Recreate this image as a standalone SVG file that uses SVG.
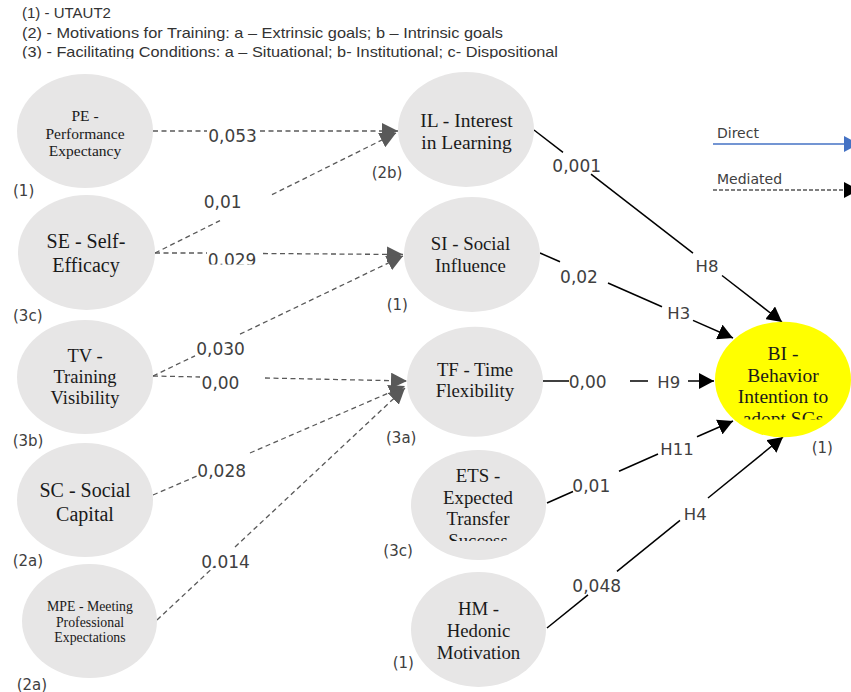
<svg xmlns="http://www.w3.org/2000/svg" width="851" height="692" viewBox="0 0 851 692">
<style>
.nd{fill:#e7e6e6;stroke:none}
.bi{fill:#ffff00;stroke:none}
.nt{font-family:"Liberation Serif","Times New Roman",serif;fill:#1a1a1a;text-anchor:middle}
.lb{font-family:"DejaVu Sans","Liberation Sans",sans-serif;font-size:17px;fill:#404040;text-anchor:middle}
.hl{font-family:"DejaVu Sans","Liberation Sans",sans-serif;font-size:16.5px;fill:#404040;text-anchor:middle}
.pn{font-family:"DejaVu Sans","Liberation Sans",sans-serif;font-size:15px;fill:#404040}
.hd{font-family:"Liberation Sans",Arial,sans-serif;font-size:15px;fill:#333333}
.lg{font-family:"DejaVu Sans","Liberation Sans",sans-serif;font-size:14px;fill:#404040}
.dr{stroke:#000;stroke-width:1.5;fill:none}
.md{stroke:#595959;stroke-width:1.3;fill:none;stroke-dasharray:5 3.5}
</style>
<defs>
<marker id="ab" markerUnits="userSpaceOnUse" markerWidth="16" markerHeight="16" refX="15" refY="8" orient="auto"><path d="M0,0 L15,8 L0,16 z" fill="#000"/></marker>
<marker id="ag" markerUnits="userSpaceOnUse" markerWidth="17" markerHeight="16" refX="16" refY="8" orient="auto"><path d="M0,0 L16,8 L0,16 z" fill="#595959"/></marker>
<marker id="au" markerUnits="userSpaceOnUse" markerWidth="16" markerHeight="16" refX="15" refY="8" orient="auto"><path d="M0,0 L15,8 L0,16 z" fill="#4472c4"/></marker>
<clipPath id="hdclip"><rect x="0" y="0" width="851" height="58.5"/></clipPath>
<clipPath id="c029"><rect x="190" y="230" width="90" height="34.5"/></clipPath>
<clipPath id="cets"><rect x="400" y="440" width="160" height="101"/></clipPath>
<clipPath id="cbi"><rect x="700" y="320" width="151" height="99.5"/></clipPath>
</defs>

<g id="header" clip-path="url(#hdclip)">
<text class="hd" x="22" y="18">(1)  - UTAUT2</text>
<text class="hd" x="22" y="37.5" textLength="481" lengthAdjust="spacingAndGlyphs">(2) - Motivations for Training: a – Extrinsic goals; b – Intrinsic goals</text>
<text class="hd" x="22" y="56.5" textLength="536" lengthAdjust="spacingAndGlyphs">(3) - Facilitating Conditions: a – Situational; b- Institutional; c- Dispositional</text>
</g>

<g id="legend">
<text class="lg" x="717" y="138">Direct</text>
<line x1="713" y1="144" x2="859" y2="144" stroke="#4472c4" stroke-width="1.3" marker-end="url(#au)"/>
<text class="lg" x="717" y="184">Mediated</text>
<line x1="713" y1="190" x2="859" y2="190" stroke="#000" stroke-width="1.2" stroke-dasharray="4 2" marker-end="url(#ab)"/>
</g>

<g id="connectors">
<!-- mediated -->
<line class="md" x1="153" y1="131" x2="207" y2="131"/>
<line class="md" x1="260" y1="131" x2="398" y2="131" marker-end="url(#ag)"/>
<line class="md" x1="155" y1="253" x2="220" y2="220.6"/>
<line class="md" x1="272" y1="194.7" x2="396" y2="133" marker-end="url(#ag)"/>
<line class="md" x1="155" y1="253" x2="207" y2="253"/>
<line class="md" x1="263" y1="253.5" x2="403" y2="254.5" marker-end="url(#ag)"/>
<line class="md" x1="153" y1="376" x2="195" y2="355.8"/>
<line class="md" x1="240" y1="334.2" x2="403" y2="256" marker-end="url(#ag)"/>
<line class="md" x1="153" y1="376" x2="200" y2="377"/>
<line class="md" x1="265" y1="378" x2="407" y2="381" marker-end="url(#ag)"/>
<line class="md" x1="153" y1="495" x2="197" y2="476"/>
<line class="md" x1="250" y1="453" x2="405" y2="385.9" marker-end="url(#ag)"/>
<line class="md" x1="157" y1="620" x2="214" y2="566.7"/>
<line class="md" x1="235" y1="547" x2="405" y2="388" marker-end="url(#ag)"/>
<!-- direct -->
<line class="dr" x1="534" y1="130" x2="563" y2="152.4"/>
<line class="dr" x1="591" y1="174.1" x2="693" y2="253.1"/>
<line class="dr" x1="722" y1="275.5" x2="782" y2="322" marker-end="url(#ab)"/>
<line class="dr" x1="540" y1="253" x2="560" y2="261.8"/>
<line class="dr" x1="608" y1="283" x2="662" y2="306.7"/>
<line class="dr" x1="693" y1="320.4" x2="733" y2="338" marker-end="url(#ab)"/>
<line class="dr" x1="543" y1="381" x2="569" y2="381"/>
<line class="dr" x1="630" y1="381" x2="648" y2="381"/>
<line class="dr" x1="688" y1="381" x2="714" y2="381" marker-end="url(#ab)"/>
<line class="dr" x1="547" y1="503" x2="573" y2="491.5"/>
<line class="dr" x1="619" y1="471.2" x2="658" y2="454"/>
<line class="dr" x1="697" y1="436.8" x2="733" y2="421" marker-end="url(#ab)"/>
<line class="dr" x1="547" y1="628" x2="588" y2="594.8"/>
<line class="dr" x1="617" y1="571.3" x2="680" y2="520.3"/>
<line class="dr" x1="708" y1="498" x2="783" y2="437" marker-end="url(#ab)"/>
<!-- labels -->
<text class="lb" x="232.5" y="141.5">0,053</text>
<text class="lb" x="222.7" y="208">0,01</text>
<g clip-path="url(#c029)"><text class="lb" x="232" y="265.6">0,029</text></g>
<text class="lb" x="220.5" y="355">0,030</text>
<text class="lb" x="220.5" y="389">0,00</text>
<text class="lb" x="221.7" y="477">0,028</text>
<text class="lb" x="225.5" y="568">0.014</text>
<text class="lb" x="576.7" y="172">0,001</text>
<text class="lb" x="579" y="283">0,02</text>
<text class="lb" x="587.7" y="388">0,00</text>
<text class="lb" x="591.3" y="491.5">0,01</text>
<text class="lb" x="596.7" y="591.5">0,048</text>
<text class="hl" x="707" y="272">H8</text>
<text class="hl" x="678.7" y="318.5">H3</text>
<text class="hl" x="668.7" y="388">H9</text>
<text class="hl" x="677" y="455">H11</text>
<text class="hl" x="695.3" y="520">H4</text>
</g>

<g id="PE">
<ellipse class="nd" cx="85" cy="131" rx="68" ry="57"/>
<text class="nt" font-size="15.5"><tspan x="85" y="121">PE -</tspan><tspan x="85" y="138.5">Performance</tspan><tspan x="85" y="156">Expectancy</tspan></text>
<text class="pn" x="13" y="195.5">(1)</text>
</g>
<g id="SE">
<ellipse class="nd" cx="86.5" cy="252.5" rx="68.5" ry="57.5"/>
<text class="nt" font-size="20"><tspan x="86" y="248">SE - Self-</tspan><tspan x="86" y="272">Efficacy</tspan></text>
<text class="pn" x="13" y="320.5">(3c)</text>
</g>
<g id="TV">
<ellipse class="nd" cx="85" cy="377" rx="68" ry="57"/>
<text class="nt" font-size="18.5"><tspan x="85" y="362">TV -</tspan><tspan x="85" y="383">Training</tspan><tspan x="85" y="404">Visibility</tspan></text>
<text class="pn" x="12.7" y="446">(3b)</text>
</g>
<g id="SC">
<ellipse class="nd" cx="85" cy="500" rx="68" ry="57"/>
<text class="nt" font-size="20"><tspan x="85" y="497">SC - Social</tspan><tspan x="85" y="521">Capital</tspan></text>
<text class="pn" x="12.7" y="566">(2a)</text>
</g>
<g id="MPE">
<ellipse class="nd" cx="89.5" cy="621" rx="67.5" ry="57"/>
<text class="nt" font-size="13.8"><tspan x="90" y="611">MPE - Meeting</tspan><tspan x="90" y="626.5">Professional</tspan><tspan x="90" y="642">Expectations</tspan></text>
<text class="pn" x="16.7" y="689.5">(2a)</text>
</g>
<g id="IL">
<ellipse class="nd" cx="466" cy="129.5" rx="68" ry="57.5"/>
<text class="nt" font-size="19.5"><tspan x="466.5" y="127">IL - Interest</tspan><tspan x="466.5" y="149">in Learning</tspan></text>
<text class="pn" x="371.7" y="177.5">(2b)</text>
</g>
<g id="SI">
<ellipse class="nd" cx="472" cy="254.5" rx="68" ry="57.5"/>
<text class="nt" font-size="18.8"><tspan x="470.5" y="250">SI - Social</tspan><tspan x="470.5" y="272">Influence</tspan></text>
<text class="pn" x="386.7" y="309.5">(1)</text>
</g>
<g id="TF">
<ellipse class="nd" cx="475" cy="381.7" rx="68" ry="55"/>
<text class="nt" font-size="18.8"><tspan x="475" y="376">TF - Time</tspan><tspan x="475" y="397">Flexibility</tspan></text>
<text class="pn" x="386" y="443">(3a)</text>
</g>
<g id="ETS">
<ellipse class="nd" cx="478.5" cy="505" rx="67.5" ry="55"/>
<text class="nt" font-size="18.8" clip-path="url(#cets)"><tspan x="478" y="482">ETS -</tspan><tspan x="478" y="503.5">Expected</tspan><tspan x="478" y="525">Transfer</tspan><tspan x="478" y="546.5">Success</tspan></text>
<text class="pn" x="383.3" y="556">(3c)</text>
</g>
<g id="HM">
<ellipse class="nd" cx="478.5" cy="629.5" rx="67.5" ry="57.5"/>
<text class="nt" font-size="18.8"><tspan x="478.5" y="615">HM -</tspan><tspan x="478.5" y="637">Hedonic</tspan><tspan x="478.5" y="659">Motivation</tspan></text>
<text class="pn" x="392.7" y="668">(1)</text>
</g>
<g id="BI">
<ellipse class="bi" cx="783" cy="379.5" rx="68" ry="57.8"/>
<text class="nt" font-size="19.5" clip-path="url(#cbi)"><tspan x="783" y="360">BI -</tspan><tspan x="783" y="381.5">Behavior</tspan><tspan x="783" y="403">Intention to</tspan><tspan x="783" y="424.5">adopt SGs</tspan></text>
<text class="pn" x="811.7" y="452.5">(1)</text>
</g>
</svg>
